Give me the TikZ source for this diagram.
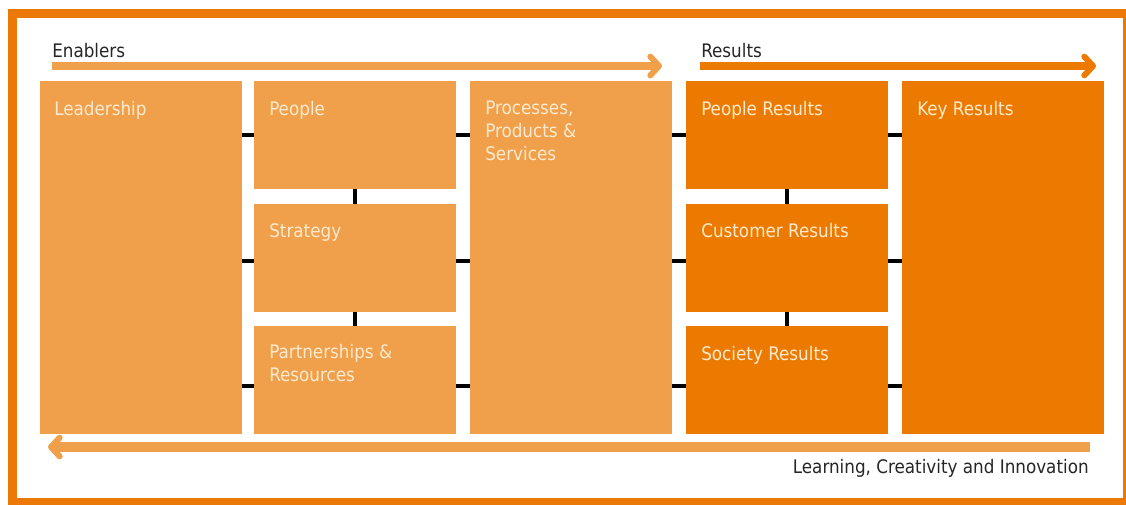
\documentclass[tikz,border=0pt]{standalone}
\usepackage{fontspec}
\setmainfont{DejaVu Sans Condensed}
\usetikzlibrary{arrows.meta}

\definecolor{enabler}{RGB}{240,160,75}
\definecolor{result}{RGB}{237,122,0}
\definecolor{frameorange}{RGB}{236,120,8}
\definecolor{boxtext}{RGB}{252,234,208}
\definecolor{headtext}{RGB}{38,38,38}

\tikzset{
  box/.style={anchor=north west, inner sep=0pt, outer sep=0pt, minimum width=151.5pt},
  tallbox/.style={box, minimum height=264.75pt},
  cellbox/.style={box, minimum height=81pt},
  enbox/.style={fill=enabler},
  rsbox/.style={fill=result},
  boxlabel/.style={anchor=north west, inner sep=0pt, text=boxtext, align=left,
    font=\fontsize{14}{17.25}\selectfont, execute at begin node={\vphantom{l}}},
  heading/.style={inner sep=0pt, text=headtext, font=\fontsize{14}{17}\selectfont},
  joint/.style={black, line width=2.7pt},
  bigarrow/.style={line width=6pt, -{Straight Barb[length=6.5pt, width=14pt, line width=4.5pt, round]}}
}

\begin{document}
\begin{tikzpicture}[x=0.75pt, y=-0.75pt]
	\useasboundingbox (0,0) rectangle (1126,504);
	\draw[frameorange, line width=6.75pt] (12.5,13.5) rectangle (1127,502.5);

	% enablers
	\node[tallbox, enbox] (lead) at (40,81) {};
	\node[cellbox, enbox] (people) at (254,81) {};
	\node[cellbox, enbox] (strat) at (254,203.5) {};
	\node[cellbox, enbox] (partner) at (254,326) {};
	\node[tallbox, enbox] (proc) at (470,81) {};
	% results
	\node[cellbox, rsbox] (pres) at (686,81) {};
	\node[cellbox, rsbox] (cres) at (686,203.5) {};
	\node[cellbox, rsbox] (sres) at (686,326) {};
	\node[tallbox, rsbox] (key) at (902,81) {};

	\node[boxlabel] (lead-t) at ([shift={(14,19.8)}]lead.north west) {Leadership};
	\node[boxlabel] (people-t) at ([shift={(15,19.8)}]people.north west) {People};
	\node[boxlabel] (strat-t) at ([shift={(15,19.8)}]strat.north west) {Strategy};
	\node[boxlabel] (partner-t) at ([shift={(15,17.8)}]partner.north west) {Partnerships \&\\Resources};
	\node[boxlabel] (proc-t) at ([shift={(15,19.8)}]proc.north west) {Processes,\\Products \&\\Services};
	\node[boxlabel] (pres-t) at ([shift={(15,19.8)}]pres.north west) {People Results};
	\node[boxlabel] (cres-t) at ([shift={(15,19.8)}]cres.north west) {Customer Results};
	\node[boxlabel] (sres-t) at ([shift={(15,19.8)}]sres.north west) {Society Results};
	\node[boxlabel] (key-t) at ([shift={(15,19.8)}]key.north west) {Key Results};

	% joints between the boxes
	\foreach \row/\dy in {people/0, strat/-2.6, partner/-4.5}{
		\draw[joint] ([yshift=\dy pt]\row.west) -- ([yshift=\dy pt]\row.west -| lead.east);
		\draw[joint] ([yshift=\dy pt]\row.east) -- ([yshift=\dy pt]\row.east -| proc.west);
	}
	\foreach \row/\dy in {pres/0, cres/-2.6, sres/-4.5}{
		\draw[joint] ([yshift=\dy pt]\row.west) -- ([yshift=\dy pt]\row.west -| proc.east);
		\draw[joint] ([yshift=\dy pt]\row.east) -- ([yshift=\dy pt]\row.east -| key.west);
	}
	\draw[joint] (people.south) -- (strat.north);
	\draw[joint] (strat.south) -- (partner.north);
	\draw[joint] (pres.south) -- (cres.north);
	\draw[joint] (cres.south) -- (sres.north);

	% arrows and headings
	\node[heading, anchor=base west] (enablers) at (52,57.5) {Enablers};
	\node[heading, anchor=base west] (results) at (701,57) {Results};
	\node[heading, anchor=base east] (learning) at (1089,473) {Learning, Creativity and Innovation};
	\coordinate (en-tail) at (52,66);
	\coordinate (en-head) at (662,66);
	\coordinate (rs-tail) at (700,66);
	\coordinate (rs-head) at (1096,66);
	\coordinate (lc-tail) at (1090,447);
	\coordinate (lc-head) at (48,447);
	\draw[bigarrow, enabler] (en-tail) -- (en-head);
	\draw[bigarrow, result] (rs-tail) -- (rs-head);
	\draw[bigarrow, enabler, line width=7.5pt] (lc-tail) -- (lc-head);
\end{tikzpicture}
\end{document}
